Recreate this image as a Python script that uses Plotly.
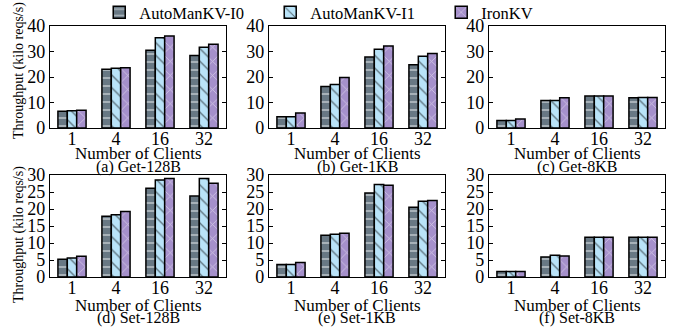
import plotly.graph_objects as go

categories = ["1", "4", "16", "32"]
series_names = ["AutoManKV-I0", "AutoManKV-I1", "IronKV"]
captions = ["(a) Get-128B", "(b) Get-1KB", "(c) Get-8KB",
            "(d) Set-128B", "(e) Set-1KB", "(f) Set-8KB"]

get_128b_i0 = [6.6, 23.0, 30.5, 28.4]
get_128b_i1 = [6.8, 23.4, 35.4, 31.7]
get_128b_iron = [7.0, 23.6, 36.1, 32.8]

get_1kb_i0 = [4.4, 16.3, 27.8, 24.8]
get_1kb_i1 = [4.4, 17.1, 30.9, 28.1]
get_1kb_iron = [5.9, 19.8, 32.2, 29.2]

get_8kb_i0 = [2.9, 10.8, 12.5, 11.9]
get_8kb_i1 = [2.9, 10.8, 12.5, 12.0]
get_8kb_iron = [3.5, 11.9, 12.5, 12.0]

set_128b_i0 = [5.2, 17.9, 26.1, 23.8]
set_128b_i1 = [5.6, 18.3, 28.5, 29.0]
set_128b_iron = [6.1, 19.3, 29.0, 27.6]

set_1kb_i0 = [3.7, 12.3, 24.7, 20.5]
set_1kb_i1 = [3.7, 12.6, 27.2, 22.3]
set_1kb_iron = [4.3, 12.9, 27.0, 22.5]

set_8kb_i0 = [1.6, 5.9, 11.7, 11.7]
set_8kb_i1 = [1.6, 6.4, 11.7, 11.7]
set_8kb_iron = [1.6, 6.2, 11.7, 11.7]

panels = [
    (get_128b_i0, get_128b_i1, get_128b_iron),
    (get_1kb_i0, get_1kb_i1, get_1kb_iron),
    (get_8kb_i0, get_8kb_i1, get_8kb_iron),
    (set_128b_i0, set_128b_i1, set_128b_iron),
    (set_1kb_i0, set_1kb_i1, set_1kb_iron),
    (set_8kb_i0, set_8kb_i1, set_8kb_iron),
]

W, H = 675, 327
FONT = "Times New Roman, Liberation Serif, serif"

styles = [
    dict(color="#687884", pattern=dict(shape="-", fgcolor="#e6e9ec", bgcolor="#687884",
                                       size=8, solidity=0.25, fillmode="overlay")),
    dict(color="#b9e3f8", pattern=dict(shape="\\", fgcolor="#000000", bgcolor="#b9e3f8",
                                       size=9, solidity=0.15, fillmode="overlay")),
    dict(color="#a590cb", pattern=dict(shape="x", fgcolor="#ffffff", bgcolor="#a590cb",
                                       size=10, solidity=0.15, fillmode="overlay")),
]

# pixel geometry of the panels
x_px = [(50, 226), (269, 445), (489, 665)]
y_px = [(26, 128), (175, 277)]

fig = go.Figure()
layout = {}
annotations = []
for i, vals in enumerate(panels):
    row, col = divmod(i, 3)
    ax = "" if i == 0 else str(i + 1)
    for s, (name, v) in enumerate(zip(series_names, vals)):
        fig.add_trace(go.Bar(
            x=categories, y=v, name=name, xaxis="x" + ax, yaxis="y" + ax,
            marker=dict(color=styles[s]["color"], pattern=styles[s]["pattern"],
                        line=dict(color="black", width=1.5)),
            showlegend=(i == 0), legendgroup=name,
        ))
    x0, x1 = x_px[col]
    y0, y1 = y_px[row]
    top_row = row == 0
    layout["xaxis" + ax] = dict(
        domain=[x0 / W, x1 / W], anchor="y" + ax, type="category",
        showline=True, mirror=True, linecolor="black", linewidth=1.2,
        ticks="", ticklen=0, tickfont=dict(family=FONT, size=18, color="black"),
        showgrid=False, zeroline=False, automargin=False, ticklabelstandoff=-6,
    )
    layout["yaxis" + ax] = dict(
        domain=[1 - y1 / H, 1 - y0 / H], anchor="x" + ax,
        range=[0, 40] if top_row else [0, 30], dtick=10 if top_row else 5,
        showline=True, mirror="ticks", linecolor="black", linewidth=1.2,
        ticks="inside", ticklen=4, tickcolor="black",
        tickfont=dict(family=FONT, size=18, color="black"),
        showgrid=False, zeroline=False, ticklabelstandoff=0, automargin=False,
    )
    cx = (x0 + x1) / 2 / W
    xl_y = 153 if top_row else 305
    cap_y = 167 if top_row else 318
    annotations.append(dict(text="Number of Clients", x=cx, y=1 - xl_y / H, xref="paper",
                            yref="paper", showarrow=False, xanchor="center", yanchor="middle",
                            font=dict(family=FONT, size=17, color="black")))
    annotations.append(dict(text=captions[i], x=cx, y=1 - cap_y / H, xref="paper",
                            yref="paper", showarrow=False, xanchor="center", yanchor="middle",
                            font=dict(family=FONT, size=16, color="black")))

for yc in (71, 235):
    annotations.append(dict(text="Throughput (kilo reqs/s)", x=19 / W, y=1 - yc / H,
                            xref="paper", yref="paper", showarrow=False, textangle=-90,
                            xanchor="center", yanchor="middle",
                            font=dict(family=FONT, size=14, color="black")))

fig.update_layout(
    **layout,
    annotations=annotations,
    width=W, height=H,
    margin=dict(l=0, r=0, t=0, b=0, autoexpand=False),
    paper_bgcolor="white", plot_bgcolor="white",
    barmode="group", bargap=0.36, bargroupgap=0,
    showlegend=True,
    legend=dict(orientation="h", x=0.527, xanchor="center", y=1.015, yanchor="top",
                font=dict(family=FONT, size=16.5, color="black"),
                entrywidth=126, entrywidthmode="pixels",
                bgcolor="rgba(0,0,0,0)", itemclick=False),
    font=dict(family=FONT, color="black"),
)

fig.write_html("out.html", config={"displayModeBar": False},
               post_script="document.body.style.margin='0';")
